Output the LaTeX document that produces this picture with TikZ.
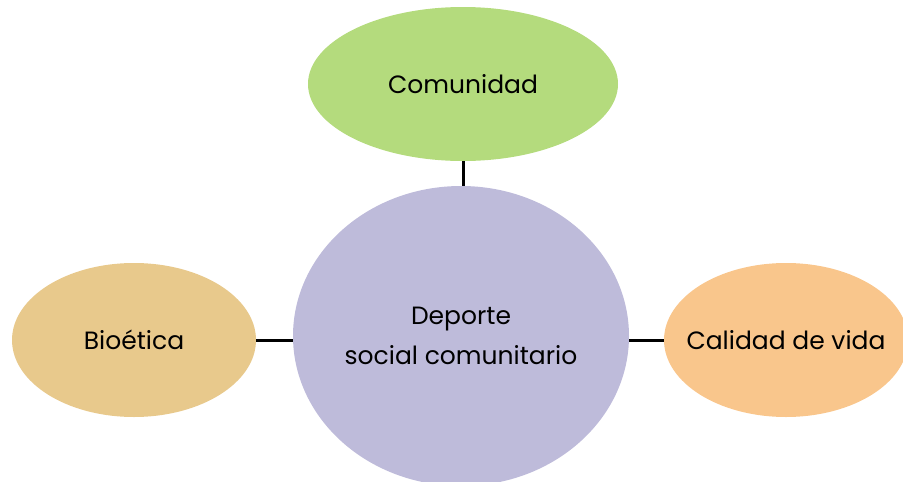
\documentclass[tikz,border=0pt]{standalone}
\usepackage{fontspec}
\setmainfont{Poppins}
\usepackage{xcolor}
\usetikzlibrary{shapes.geometric}

\definecolor{verdeC}{HTML}{B4DB7D}
\definecolor{lilaC}{HTML}{BEBBDA}
\definecolor{arenaC}{HTML}{E8C98C}
\definecolor{naranjaC}{HTML}{F9C68C}

\begin{document}
\begin{tikzpicture}[x=1pt,y=-1pt,
    bubble/.style={ellipse, draw=none, inner sep=0pt, align=center,
      font=\fontsize{25}{40}\selectfont},
    link/.style={line width=3pt, black}]

	\clip (0,0) rectangle (903,482);
	\useasboundingbox (0,0) rectangle (903,482);

	\node [bubble, fill=verdeC, minimum width=310pt, minimum height=154pt] (comunidad) at (463,84) {Comunidad};
	\node [bubble, fill=lilaC, minimum width=336pt, minimum height=300pt] (deporte) at (461,336) {Deporte\\social comunitario};
	\node [bubble, fill=arenaC, minimum width=244pt, minimum height=154pt] (bioetica) at (134,340) {Bioética};
	\node [bubble, fill=naranjaC, minimum width=244pt, minimum height=154pt] (calidad) at (786,340) {\makebox[0pt]{Calidad de vida}};

	\draw [link] (comunidad.south) -- (deporte.north -| comunidad.south);
	\draw [link] (bioetica.east) -- (deporte.west |- bioetica.east);
	\draw [link] (calidad.west) -- (deporte.east |- calidad.west);
\end{tikzpicture}
\end{document}
